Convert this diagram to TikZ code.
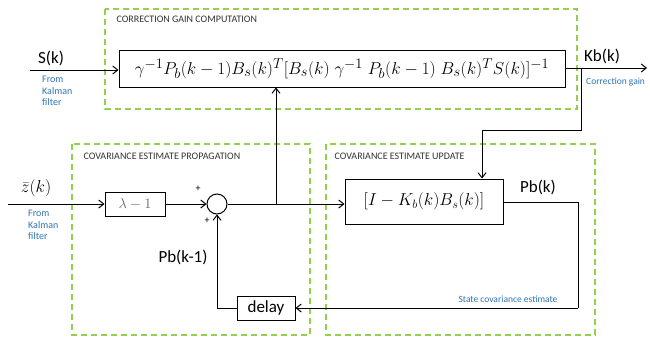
\documentclass[tikz,border=0pt]{standalone}
\usepackage[no-math]{fontspec}
\setmainfont{Carlito}
\usetikzlibrary{arrows.meta,calc}
\definecolor{grpgreen}{HTML}{92D050}
\definecolor{noteblue}{HTML}{2E75B6}
\begin{document}
\begin{tikzpicture}[x=1pt,y=-1pt,
  grp/.style={draw=grpgreen,line width=1.8pt,dash pattern=on 6pt off 4pt},
  blk/.style={draw,line width=1pt,rectangle,inner sep=0pt},
  conn/.style={line width=1pt},
  arr/.style={conn,-{Straight Barb[length=5pt,width=8pt,line width=1pt]}},
  grptitle/.style={anchor=west,font=\fontsize{10}{12}\selectfont,text=black!80},
  lbl/.style={font=\fontsize{17}{20}\selectfont,inner sep=1pt},
  note/.style={text=noteblue,font=\fontsize{10}{11.5}\selectfont,align=left,inner sep=0pt},
  plus/.style={font=\fontsize{10}{12}\selectfont,inner sep=0pt}]
\useasboundingbox[fill=white] (0,0) rectangle (650,338);
% group frames
\draw[grp] (105,9) rectangle (577,109);
\draw[grp] (72,144) rectangle (310,335);
\draw[grp] (326,144) rectangle (595,335);
\node[grptitle] (t1) at (113,19) {CORRECTION GAIN COMPUTATION};
\node[grptitle] (t2) at (80,156) {COVARIANCE ESTIMATE PROPAGATION};
\node[grptitle] (t3) at (331,156) {COVARIANCE ESTIMATE UPDATE};
% blocks
\node[blk,minimum width=446pt,minimum height=37pt] (main) at (342,68.5)
  {\fontsize{19}{22}\selectfont$\gamma^{-1}P_b(k-1)B_s(k)^T[B_s(k)\;\gamma^{-1}\;P_b(k-1)\;B_s(k)^TS(k)]^{-1}$};
\node[blk,minimum width=60pt,minimum height=24pt] (lam) at (135,204)
  {\fontsize{14}{16}\selectfont\color{black!60}$\lambda-1$};
\node[draw,line width=1pt,circle,minimum size=20pt,inner sep=0pt] (sum) at (217,204) {};
\node[blk,minimum width=158pt,minimum height=45pt] (upd) at (424,201.5)
  {\fontsize{17.5}{20}\selectfont$[I-K_b(k)B_s(k)]$};
\node[blk,minimum width=58pt,minimum height=24pt] (delay) at (266,308)
  {\fontsize{17}{20}\selectfont delay};
% coordinates
\coordinate (sin) at (30,70);
\coordinate (zin) at (8,204);
\coordinate (kj) at (581,68);
\coordinate (kout) at (647,68);
\coordinate (kc) at (581,130);
\coordinate (ptop) at (482,130);
\coordinate (br) at (276,204);
\coordinate (pr) at (578,202);
\coordinate (pb) at (578,308);
\coordinate (dl) at (217,308);
% connectors
\draw[arr] (sin) -- (sin -| main.west);
\draw[arr] (main.east |- kj) -- (kout);
\draw[arr] (kj) -- (kc) -- (ptop) -- (ptop |- upd.north);
\draw[arr] (zin) -- (lam.west);
\draw[arr] (lam.east) -- (sum.west);
\draw[arr] (sum.east) -- (upd.west |- sum.east);
\draw[arr] (br) -- (br |- main.south);
\draw[conn] (upd.east |- pr) -- (pr) -- (pb);
\draw[arr] (pb) -- (delay.east);
\draw[arr] (delay.west) -- (dl) -- (sum.south);
% labels
\node[lbl] (sk) at (51,58) {S(k)};
\node[note,anchor=north west] (n1) at (42,76) {From\\Kalman\\filter};
\node[font=\fontsize{17}{20}\selectfont,inner sep=1pt] (zk) at (36,188) {$\bar{z}(k)$};
\node[note,anchor=north west] (n2) at (28,210) {From\\Kalman\\filter};
\node[lbl] (kb) at (602,56) {Kb(k)};
\node[note,anchor=west,font=\fontsize{9.5}{11}\selectfont] (n3) at (586,82) {Correction gain};
\node[lbl] (pbk) at (538,187) {Pb(k)};
\node[lbl] (pbk1) at (183,257) {Pb(k-1)};
\node[note,font=\fontsize{9.5}{11}\selectfont] (n4) at (508,299) {State covariance estimate};
\node[plus] (p1) at (198,189) {+};
\node[plus] (p2) at (207,221) {+};
\end{tikzpicture}
\end{document}
